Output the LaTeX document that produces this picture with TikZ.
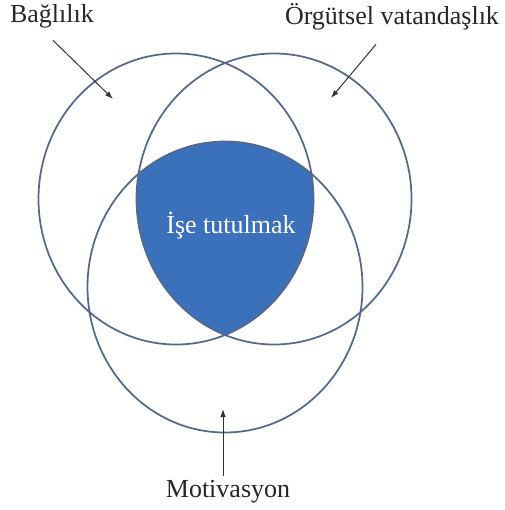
\documentclass[tikz,border=0pt]{standalone}
\usepackage{fontspec}
\setmainfont{Liberation Serif}
\usetikzlibrary{calc}
\usetikzlibrary{arrows.meta}

\definecolor{ringline}{RGB}{84,104,140}
\definecolor{corefill}{RGB}{59,113,186}

\begin{document}
\begin{tikzpicture}[
        >={Latex[length=6pt, width=4.2pt]}, x=0.75pt, y=-0.75pt,
        ring/.style={draw=ringline, line width=1.3pt},
        tag/.style={font=\fontsize{19.5pt}{22pt}\selectfont, text=black!85, anchor=base},
        pointer/.style={->, line width=0.75pt, draw=black!80},
    ]

    \useasboundingbox (0,0) rectangle (504,510);

    \coordinate (cl) at (176,199);
    \coordinate (cr) at (274,199);
    \coordinate (cb) at (225,287);

    % common part of the three sets
    \begin{scope}
        \clip (cl) ellipse [x radius=137.5, y radius=145.5];
        \clip (cr) ellipse [x radius=137.5, y radius=145.5];
        \fill[corefill] (cb) ellipse [x radius=137.5, y radius=145.5];
    \end{scope}

    \foreach \c in {cl, cr, cb}
        \draw[ring] (\c) ellipse [x radius=137.5, y radius=145.5];

    \node[tag] (bag) at (52,23) {Bağlılık};
    \node[tag] (org) at (392,25) {Örgütsel vatandaşlık};
    \node[tag] (mot) at (228,497) {Motivasyon};
    \node[tag, text=white] (core) at (231,233) {İşe tutulmak};

    \coordinate (bagtip) at (113,99);
    \coordinate (orgtip) at (331,98);
    \coordinate (mottip) at (223,409);

    \draw[pointer] ($(bag.south)+(1,7)$) -- (bagtip);
    \draw[pointer] ($(org.south)+(-16,9)$) -- (orgtip);
    \draw[pointer] ($(mot.north)+(-5,1)$) -- (mottip);

\end{tikzpicture}
\end{document}
